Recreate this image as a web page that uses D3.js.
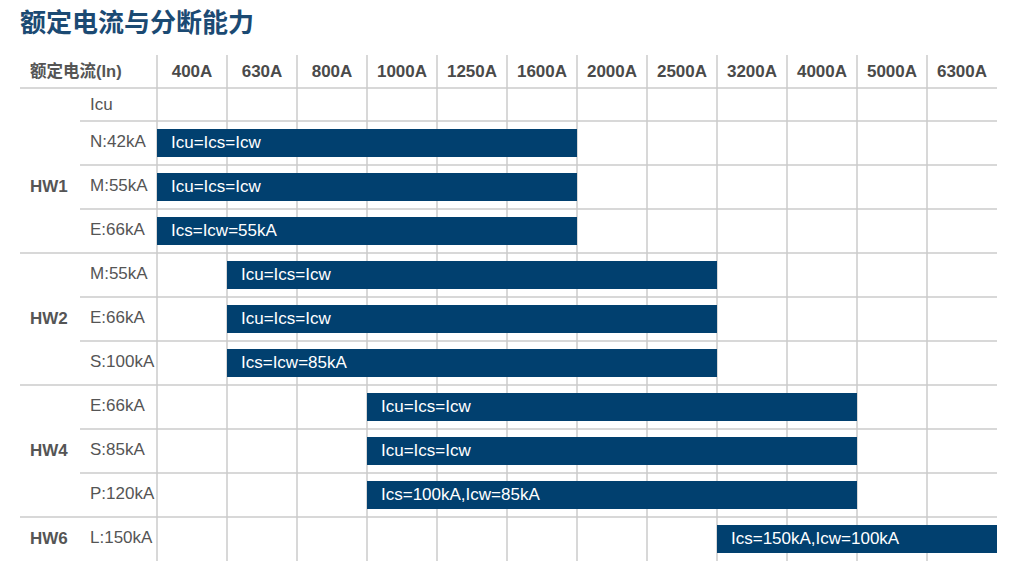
<!DOCTYPE html>
<html>
<head>
<meta charset="utf-8">
<script src="https://cdn.jsdelivr.net/npm/d3@7"></script>
<style>
	body { margin: 0; background: #fff; }
	svg { display: block; font-family: "Liberation Sans", Arial, "Noto Sans CJK SC", sans-serif; }
</style>
</head>
<body>
<svg id="chart" width="1024" height="567"></svg>
<script>
const title = '额定电流与分断能力';
const header_label = '额定电流(In)';
const currents = ['400A', '630A', '800A', '1000A', '1250A', '1600A', '2000A', '2500A', '3200A', '4000A', '5000A', '6300A'];

const frames = ['HW1', 'HW2', 'HW4', 'HW6'];

// one entry per rating row
const row_frames = ['HW1', 'HW1', 'HW1', 'HW2', 'HW2', 'HW2', 'HW4', 'HW4', 'HW4', 'HW6'];
const row_labels = ['N:42kA', 'M:55kA', 'E:66kA', 'M:55kA', 'E:66kA', 'S:100kA', 'E:66kA', 'S:85kA', 'P:120kA', 'L:150kA'];
const bar_from = ['400A', '400A', '400A', '630A', '630A', '630A', '1000A', '1000A', '1000A', '3200A'];
const bar_to = ['1600A', '1600A', '1600A', '2500A', '2500A', '2500A', '4000A', '4000A', '4000A', '6300A'];
const bar_text = ['Icu=Ics=Icw', 'Icu=Ics=Icw', 'Ics=Icw=55kA', 'Icu=Ics=Icw', 'Icu=Ics=Icw', 'Ics=Icw=85kA',
	'Icu=Ics=Icw', 'Icu=Ics=Icw', 'Ics=100kA,Icw=85kA', 'Ics=150kA,Icw=100kA'];

const BAR_COLOR = '#01406f';
const GRID_COLOR = '#cbcbcb';
const TEXT_COLOR = '#555555';

const svg = d3.select('#chart');

const x = d3.scaleBand().domain(currents).range([157, 997]);
const rows = d3.range(row_labels.length);
const y = d3.scaleBand().domain(rows).range([121, 561]);

const header_top = 55;
const header_bottom = 88;
const icu_bottom = 121;

svg.append('text')
	.attr('x', 20)
	.attr('y', 32)
	.attr('fill', '#1b4a73')
	.attr('font-size', 26)
	.attr('font-weight', 'bold')
	.text(title);

// vertical grid
const grid = svg.append('g').attr('stroke', GRID_COLOR).attr('stroke-width', 1.5);

grid.selectAll('line.v')
	.data(currents)
	.join('line')
	.attr('class', 'v')
	.attr('x1', d => x(d))
	.attr('x2', d => x(d))
	.attr('y1', header_top)
	.attr('y2', y.range()[1]);

// horizontal grid
const h_lines = [{y: header_bottom, x0: 20}, {y: icu_bottom, x0: 80}];
rows.slice(1).forEach(i => {
	const group_start = row_frames[i] !== row_frames[i - 1];
	h_lines.push({y: y(i), x0: group_start ? 20 : 80});
});

grid.selectAll('line.h')
	.data(h_lines)
	.join('line')
	.attr('class', 'h')
	.attr('x1', d => d.x0)
	.attr('x2', x.range()[1])
	.attr('y1', d => d.y)
	.attr('y2', d => d.y);

// header
svg.append('text')
	.attr('x', 30)
	.attr('y', (header_top + header_bottom) / 2 + 1)
	.attr('dominant-baseline', 'middle')
	.attr('fill', TEXT_COLOR)
	.attr('font-size', 16.5)
	.attr('font-weight', 'bold')
	.text(header_label);

svg.append('g')
	.selectAll('text')
	.data(currents)
	.join('text')
	.attr('x', d => x(d) + x.bandwidth() / 2)
	.attr('y', (header_top + header_bottom) / 2 + 1)
	.attr('text-anchor', 'middle')
	.attr('dominant-baseline', 'middle')
	.attr('fill', '#4a4a4a')
	.attr('font-size', 17)
	.attr('font-weight', 'bold')
	.text(d => d);

svg.append('text')
	.attr('x', 90)
	.attr('y', (header_bottom + icu_bottom) / 2 + 1)
	.attr('dominant-baseline', 'middle')
	.attr('fill', TEXT_COLOR)
	.attr('font-size', 17)
	.text('Icu');

// frame labels, centred on their rows
svg.append('g')
	.selectAll('text')
	.data(frames)
	.join('text')
	.attr('x', 30)
	.attr('y', f => {
		const idx = rows.filter(i => row_frames[i] === f);
		return (y(idx[0]) + y(idx[idx.length - 1]) + y.bandwidth()) / 2 + 1;
	})
	.attr('dominant-baseline', 'middle')
	.attr('fill', TEXT_COLOR)
	.attr('font-size', 17)
	.attr('font-weight', 'bold')
	.text(f => f);

// rating labels
svg.append('g')
	.selectAll('text')
	.data(rows)
	.join('text')
	.attr('x', 90)
	.attr('y', i => y(i) + y.bandwidth() / 2)
	.attr('dominant-baseline', 'middle')
	.attr('fill', TEXT_COLOR)
	.attr('font-size', 17)
	.text(i => row_labels[i]);

// bars
const bars = svg.append('g')
	.selectAll('g')
	.data(rows)
	.join('g');

bars.append('rect')
	.attr('x', i => x(bar_from[i]))
	.attr('y', i => y(i) + 8)
	.attr('width', i => x(bar_to[i]) + x.bandwidth() - x(bar_from[i]))
	.attr('height', 28)
	.attr('fill', BAR_COLOR);

bars.append('text')
	.attr('x', i => x(bar_from[i]) + 14)
	.attr('y', i => y(i) + 22 + 1)
	.attr('dominant-baseline', 'middle')
	.attr('fill', '#ffffff')
	.attr('font-size', 17)
	.text(i => bar_text[i]);
</script>
</body>
</html>
